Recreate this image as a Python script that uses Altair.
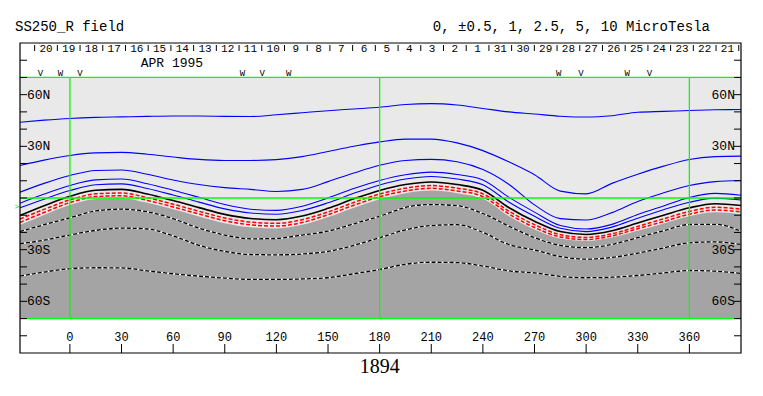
import altair as alt
import pandas as pd

# ---------------- data ----------------
LON = [-29, -15, 0, 15, 30, 45, 60, 75, 90, 105, 120, 135, 150, 165, 180,
       195, 210, 225, 240, 255, 270, 285, 300, 315, 330, 345, 360, 375, 390]

POS_10 = [44.0, 45.2, 46.2, 46.8, 47.1, 47.4, 47.6, 47.6, 47.4, 47.3, 48.3, 49.5, 50.7, 51.7, 52.7,
          54.3, 54.8, 54.0, 52.0, 50.0, 48.8, 47.5, 47.0, 47.8, 49.8, 50.3, 50.8, 51.2, 51.4]
POS_5 = [18.9, 22.0, 24.7, 26.2, 26.5, 25.4, 23.8, 22.4, 21.8, 21.8, 22.3, 24.0, 27.0, 30.0, 32.6,
         34.2, 34.2, 32.0, 27.5, 21.0, 13.5, 4.0, 2.4, 8.5, 13.8, 18.5, 22.4, 24.0, 24.3]
POS_2_5 = [3.4, 8.5, 13.1, 16.0, 16.3, 13.8, 10.5, 7.8, 6.0, 5.0, 3.8, 5.0, 9.5, 14.5, 19.0,
           21.8, 22.4, 21.0, 16.5, 8.0, -4.0, -12.0, -12.8, -8.5, -2.0, 3.0, 7.3, 9.5, 10.2]
POS_1 = [-3.0, 2.3, 7.3, 10.5, 11.0, 8.3, 4.5, 0.4, -3.8, -6.5, -7.2, -4.8, 0.0, 5.5, 10.2,
         13.5, 15.0, 13.6, 10.5, 0.5, -8.2, -16.0, -18.0, -15.3, -9.6, -4.6, 0.3, 2.7, 1.6]
POS_0_5 = [-5.7, -0.7, 4.3, 7.7, 8.2, 5.5, 1.7, -2.4, -6.3, -8.7, -9.4, -7.3, -2.8, 2.7, 7.6,
           11.0, 12.5, 11.0, 7.7, -2.3, -10.6, -17.6, -19.5, -16.9, -11.7, -6.8, -2.5, -0.1, -1.2]
NEUTRAL = [-10.2, -4.5, 1.0, 4.5, 5.0, 2.3, -1.5, -5.6, -9.5, -11.9, -12.6, -10.5, -6.0, -0.5, 4.4,
           7.8, 9.3, 7.8, 4.5, -5.5, -13.5, -19.5, -21.2, -19.0, -14.5, -10.0, -5.7, -3.3, -4.4]
NEG_0_5 = [-12.2, -6.6, -1.1, 2.4, 2.9, 0.2, -3.6, -7.7, -11.6, -14.0, -14.7, -12.6, -8.1, -2.6, 2.3,
           5.7, 7.2, 5.7, 2.4, -7.6, -15.5, -21.3, -22.9, -20.8, -16.5, -12.1, -7.8, -5.4, -6.5]
NEG_1 = [-14.2, -8.4, -2.7, 0.8, 1.3, -1.4, -5.2, -9.3, -13.2, -15.6, -16.3, -14.2, -9.7, -4.2, 0.7,
         4.1, 5.6, 4.1, 0.8, -9.2, -17.1, -22.6, -24.1, -22.0, -17.8, -13.7, -9.4, -7.0, -8.1]
NEG_EDGE = [-15.6, -9.8, -4.1, -0.6, -0.1, -2.8, -6.6, -10.7, -14.6, -17.0, -17.7, -15.6, -11.1, -5.6, -0.7,
            2.8, 4.3, 2.8, -0.5, -10.5, -18.3, -23.5, -24.9, -22.9, -19.0, -14.8, -10.6, -8.3, -9.4]
NEG_5 = [-19.5, -15.5, -11.5, -7.5, -6.5, -8.0, -12.0, -17.5, -21.5, -23.7, -23.5, -21.5, -19.3, -15.0, -10.6,
         -5.5, -3.8, -4.5, -9.0, -16.3, -23.0, -27.5, -28.8, -27.0, -23.0, -19.0, -15.4, -15.3, -19.3]
NEG_10 = [-26.5, -24.5, -21.5, -18.8, -17.5, -18.0, -22.0, -27.5, -31.0, -32.8, -33.0, -32.5, -31.0, -27.5, -23.1,
          -18.5, -16.0, -15.5, -20.0, -27.0, -30.2, -34.0, -35.5, -34.5, -32.0, -29.0, -26.0, -25.5, -27.0]
NEG_20 = [-45.4, -43.0, -41.1, -40.5, -40.6, -42.3, -44.0, -45.4, -46.5, -47.3, -47.3, -47.0, -46.3, -44.0, -41.5,
          -38.5, -37.3, -37.5, -39.5, -42.3, -43.5, -45.5, -46.3, -46.0, -45.0, -43.5, -42.1, -42.5, -43.8]

DAY_LABELS = ["20", "19", "18", "17", "16", "15", "14", "13", "12", "11", "10", "9", "8", "7", "6",
              "5", "4", "3", "2", "1", "31", "30", "29", "28", "27", "26", "25", "24", "23", "22", "21"]
DAY_LON = [-13.9, -0.7, 12.5, 25.7, 38.9, 52.1, 65.3, 78.5, 91.7, 104.9, 118.1, 131.3, 144.5, 157.7, 170.9,
           184.1, 197.3, 210.5, 223.7, 236.9, 250.1, 263.3, 276.5, 289.7, 302.9, 316.1, 329.3, 342.5, 355.7,
           368.9, 382.1]
DAY_TICKS = [-20.5, -7.3, 5.9, 19.1, 32.3, 45.5, 58.7, 71.9, 85.1, 98.3, 111.5, 124.7, 137.9, 151.1, 164.3,
             177.5, 190.7, 203.9, 217.1, 230.3, 243.5, 256.7, 269.9, 283.1, 296.3, 309.5, 322.7, 335.9,
             349.1, 362.3, 375.5, 388.7]

MARK_TEXT = ["V", "W", "V", "W", "V", "W", "W", "V", "W", "V"]
MARK_LON = [-17.1, -5.5, 5.8, 100.3, 111.7, 127.2, 284.0, 297.0, 323.9, 336.8]

LON_TICKS = [0, 30, 60, 90, 120, 150, 180, 210, 240, 270, 300, 330, 360]
LAT_TICKS = [-80, -70, -60, -50, -40, -30, -20, -10, 0, 10, 20, 30, 40, 50, 60, 70, 80]
LAT_LABEL_VALUES = [60, 30, -30, -60]
LAT_LABEL_TEXT = ["60N", "30N", "30S", "60S"]
GREEN_LON = [0, 180, 360]
GREEN_LAT = [70, 0, -70]

LON_MIN, LON_MAX = -29, 390
LAT_MIN, LAT_MAX = -90, 90
MAP_LAT = 70

TITLE_LEFT = "SS250_R field"
TITLE_RIGHT = "0, \u00b10.5, 1, 2.5, 5, 10 MicroTesla"
MONTH_TEXT = "APR 1995"
ROTATION = "1894"

# ---------------- helpers ----------------
xs = alt.Scale(domain=[LON_MIN, LON_MAX], nice=False, zero=False)
ys = alt.Scale(domain=[LAT_MIN, LAT_MAX], nice=False, zero=False)
MONO = "Liberation Mono"


def curves(named):
    rows = []
    for name, vals in named:
        for lo, la in zip(LON, vals):
            rows.append({"lon": lo, "lat": la, "curve": name})
    return pd.DataFrame(rows)


def X(f="lon"):
    return alt.X(f"{f}:Q", scale=xs, axis=None)


def Y(f="lat"):
    return alt.Y(f"{f}:Q", scale=ys, axis=None)


blue_df = curves([("10", POS_10), ("5", POS_5), ("2.5", POS_2_5), ("1", POS_1), ("0.5", POS_0_5)])
neutral_df = curves([("0", NEUTRAL)])
red_df = curves([("-0.5", NEG_0_5), ("-1", NEG_1)])
neg_df = curves([("-5", NEG_5), ("-10", NEG_10), ("-20", NEG_20)])
edge_df = curves([("edge", NEG_EDGE)])
edge_df["base"] = -MAP_LAT

# background map rectangle
bg = alt.Chart(pd.DataFrame({"x1": [LON_MIN], "x2": [LON_MAX], "y1": [-MAP_LAT], "y2": [MAP_LAT]})).mark_rect(
    color="#e9e9e9").encode(x=X("x1"), x2="x2:Q", y=Y("y1"), y2="y2:Q")

neg_area = alt.Chart(edge_df).mark_area(color="#a4a4a4", interpolate="monotone").encode(
    x=X(), y=Y(), y2="base:Q")

neg_white = alt.Chart(neg_df).mark_line(color="white", strokeWidth=1.3, interpolate="monotone").encode(
    x=X(), y=Y(), detail="curve:N")
neg_black = alt.Chart(neg_df).mark_line(color="black", strokeWidth=1.3, strokeDash=[4, 2],
                                        interpolate="monotone").encode(x=X(), y=Y(), detail="curve:N")
red = alt.Chart(red_df).mark_line(color="#ff0000", strokeWidth=1.5, strokeDash=[4, 2],
                                  interpolate="monotone").encode(x=X(), y=Y(), detail="curve:N")
blue = alt.Chart(blue_df).mark_line(color="#0000ff", strokeWidth=1.1, interpolate="monotone").encode(
    x=X(), y=Y(), detail="curve:N")
neutral = alt.Chart(neutral_df).mark_line(color="black", strokeWidth=1.6, interpolate="monotone").encode(
    x=X(), y=Y())

green_h = alt.Chart(pd.DataFrame({"lat": GREEN_LAT, "x1": [LON_MIN] * 3, "x2": [LON_MAX] * 3})).mark_rule(
    color="#00ff00", strokeWidth=1.3).encode(y=Y(), x=X("x1"), x2="x2:Q")
green_v = alt.Chart(pd.DataFrame({"lon": GREEN_LON, "y1": [-MAP_LAT] * 3, "y2": [MAP_LAT] * 3})).mark_rule(
    color="#00ff00", strokeWidth=1.3).encode(x=X(), y=Y("y1"), y2="y2:Q")

frame = alt.Chart(pd.DataFrame({"x1": [LON_MIN], "x2": [LON_MAX], "y1": [LAT_MIN], "y2": [LAT_MAX]})).mark_rect(
    fill=None, stroke="black", strokeWidth=1.2).encode(x=X("x1"), x2="x2:Q", y=Y("y1"), y2="y2:Q")

lat_tick_df = pd.DataFrame({"lat": LAT_TICKS, "left": [LON_MIN] * len(LAT_TICKS), "right": [LON_MAX] * len(LAT_TICKS)})
ticks_left = alt.Chart(lat_tick_df).mark_rule(color="black", x2Offset=7).encode(
    y=Y(), x=X("left"), x2="left:Q")
ticks_right = alt.Chart(lat_tick_df).mark_rule(color="black", x2Offset=-7).encode(
    y=Y(), x=X("right"), x2="right:Q")

lon_tick_df = pd.DataFrame({"lon": LON_TICKS, "bottom": [LAT_MIN] * len(LON_TICKS),
                            "lab": [str(v) for v in LON_TICKS], "labpos": [-80.7] * len(LON_TICKS)})
ticks_bottom = alt.Chart(lon_tick_df).mark_rule(color="black", y2Offset=-9).encode(
    x=X(), y=Y("bottom"), y2="bottom:Q")
labels_bottom = alt.Chart(lon_tick_df).mark_text(font=MONO, fontSize=12, color="black", baseline="middle").encode(
    x=X(), y=Y("labpos"), text="lab:N")

day_tick_df = pd.DataFrame({"lon": DAY_TICKS, "top": [LAT_MAX] * len(DAY_TICKS)})
ticks_day = alt.Chart(day_tick_df).mark_rule(color="black", yOffset=2, y2Offset=8).encode(
    x=X(), y=Y("top"), y2="top:Q")
day_df = pd.DataFrame({"lon": DAY_LON, "lab": DAY_LABELS, "lat": [86.8] * len(DAY_LON)})
labels_day = alt.Chart(day_df).mark_text(font=MONO, fontSize=11, color="black", baseline="middle").encode(
    x=X(), y=Y(), text="lab:N")

mark_df = pd.DataFrame({"lon": MARK_LON, "lab": MARK_TEXT, "lat": [70.9] * len(MARK_LON)})
labels_mark = alt.Chart(mark_df).mark_text(font=MONO, fontSize=9, color="black", baseline="alphabetic").encode(
    x=X(), y=Y(), text="lab:N")

lat_lab_df = pd.DataFrame({"lat": LAT_LABEL_VALUES, "lab": LAT_LABEL_TEXT,
                           "left": [-25.0] * 4, "right": [386.5] * 4})
labels_lat_left = alt.Chart(lat_lab_df).mark_text(font=MONO, fontSize=13, color="black", align="left",
                                                  baseline="middle").encode(x=X("left"), y=Y(), text="lab:N")
labels_lat_right = alt.Chart(lat_lab_df).mark_text(font=MONO, fontSize=13, color="black", align="right",
                                                   baseline="middle").encode(x=X("right"), y=Y(), text="lab:N")

text_df = pd.DataFrame({
    "lon": [-31.9, 372.0, 59.3],
    "lat": [99.3, 99.3, 78.4],
    "lab": [TITLE_LEFT, TITLE_RIGHT, MONTH_TEXT],
})
t_left = alt.Chart(text_df.iloc[[0]]).mark_text(font=MONO, fontSize=14, align="left", baseline="middle",
                                                 color="black").encode(x=X(), y=Y(), text="lab:N")
t_right = alt.Chart(text_df.iloc[[1]]).mark_text(font=MONO, fontSize=14, align="right", baseline="middle",
                                                  color="black").encode(x=X(), y=Y(), text="lab:N")
t_month = alt.Chart(text_df.iloc[[2]]).mark_text(font=MONO, fontSize=13, align="center", baseline="middle",
                                                  color="black").encode(x=X(), y=Y(), text="lab:N")
t_rot = alt.Chart(pd.DataFrame({"lon": [180], "lat": [-98.1], "lab": [ROTATION]})).mark_text(
    font="Liberation Serif", fontSize=20, align="center", baseline="middle", color="black").encode(
    x=X(), y=Y(), text="lab:N")
t_earth = alt.Chart(pd.DataFrame({"lon": [-30.8], "lat": [-5.2], "lab": [">"]})).mark_text(
    font=MONO, fontSize=8, align="center", baseline="middle", color="#00cc00").encode(
    x=X(), y=Y(), text="lab:N")

chart = alt.layer(
    bg, neg_area, neg_white, neg_black, red, blue, neutral, green_h, green_v,
    frame, ticks_left, ticks_right, ticks_bottom, ticks_day,
    labels_bottom, labels_day, labels_mark, labels_lat_left, labels_lat_right,
    t_left, t_right, t_month, t_rot, t_earth,
).properties(
    width=721, height=310,
    autosize=alt.AutoSizeParams(type="none"),
    padding={"left": 12, "top": 35, "right": 10, "bottom": 40},
    background="white",
).configure_view(stroke=None)

chart.save("out.html", embed_options={"renderer": "svg", "actions": False})
